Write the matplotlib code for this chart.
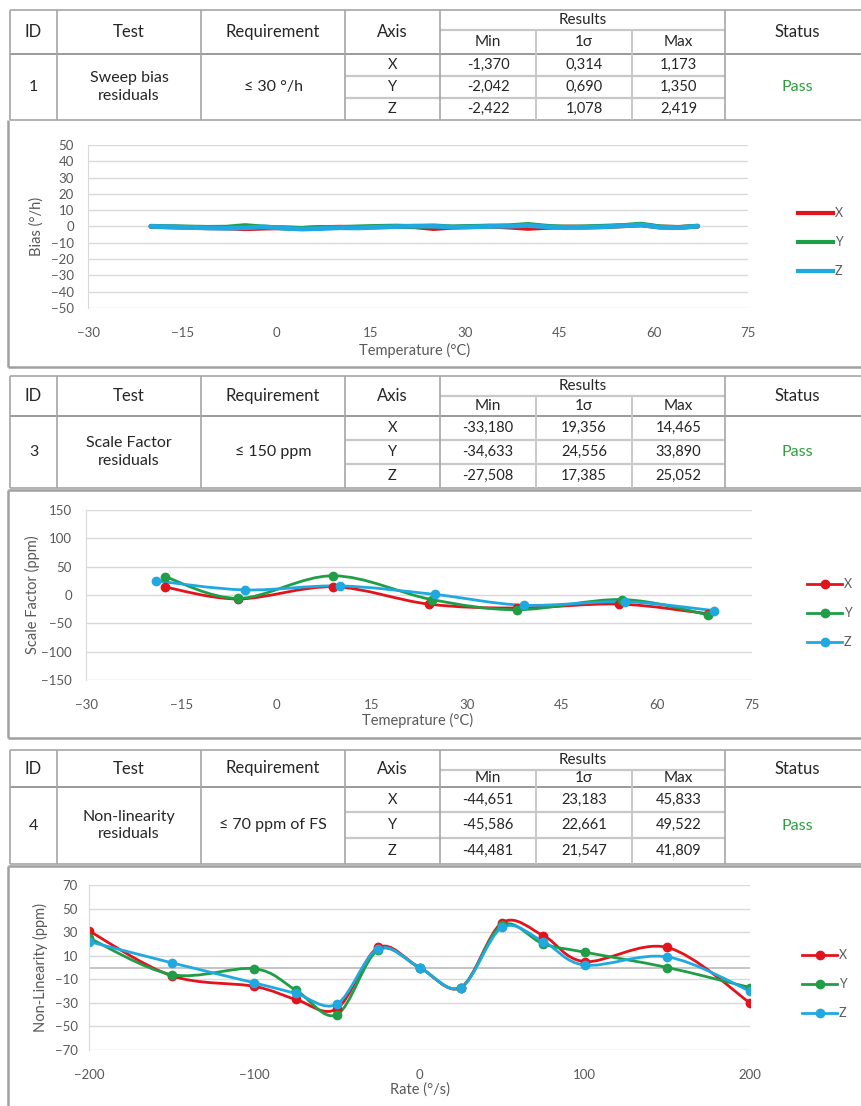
import numpy as np
import matplotlib
matplotlib.use("Agg")
import matplotlib.pyplot as plt
from matplotlib.path import Path
from matplotlib.patches import PathPatch
from matplotlib.lines import Line2D

plt.rcParams['font.family'] = ['Lato', 'DejaVu Sans']

W, H = 861, 1106

RED = '#e3131c'
GREEN = '#1f9e47'
BLUE = '#1fa9e0'
GRID = '#d9d9d9'
TXT = '#595959'
LINE = '#a6a6a6'

# ---------------- data ----------------
axis_names = ['X', 'Y', 'Z']

# table 1 - sweep bias
t1_id, t1_test, t1_req = '1', 'Sweep bias\nresiduals', '≤ 30 °/h'
t1_min = ['-1,370', '-2,042', '-2,422']
t1_sig = ['0,314', '0,690', '1,078']
t1_max = ['1,173', '1,350', '2,419']

# table 2 - scale factor
t2_id, t2_test, t2_req = '3', 'Scale Factor\nresiduals', '≤ 150 ppm'
t2_min = ['-33,180', '-34,633', '-27,508']
t2_sig = ['19,356', '24,556', '17,385']
t2_max = ['14,465', '33,890', '25,052']

# table 3 - non-linearity
t3_id, t3_test, t3_req = '4', 'Non-linearity\nresiduals', '≤ 70 ppm of FS'
t3_min = ['-44,651', '-45,586', '-44,481']
t3_sig = ['23,183', '22,661', '21,547']
t3_max = ['45,833', '49,522', '41,809']

status = 'Pass'

# chart 1 - bias vs temperature (°/h)
bias_temp = [-20, -17, -14, -11, -8, -5, -2, 1, 4, 7, 10, 13, 16, 19, 22,
             25, 28, 31, 34, 37, 40, 43, 46, 49, 52, 55, 58, 61, 64, 67]
bias_x = [0.0, -0.3, -0.5, -0.8, -0.9, -1.4, -1.0, -0.8, -1.1, -0.7, -0.4, -0.6, -0.3, 0.0, -0.2,
          -1.3, -0.5, -0.1, 0.2, -0.4, -1.2, -0.6, -0.3, -0.4, -0.1, 0.4, 0.9, -0.3, -0.5, 0.1]
bias_y = [0.2, -0.1, -0.3, -0.5, -0.4, 0.6, -0.3, -0.9, -1.2, -0.5, -0.6, -0.2, 0.1, 0.3, 0.0,
          0.4, -0.2, 0.1, 0.3, 0.5, 1.3, 0.2, -0.4, -0.2, 0.2, 0.6, 1.5, -0.2, -0.6, 0.3]
bias_z = [0.1, -0.2, -0.6, -0.9, -1.1, -0.8, -0.2, -1.0, -1.6, -1.3, -0.8, -0.9, -0.4, -0.1, 0.3,
          0.2, -0.4, -0.3, 0.1, 0.2, 0.6, -0.2, -0.6, -0.5, -0.2, 0.4, 1.0, -0.5, -0.7, 0.2]

# chart 2 - scale factor vs temperature (ppm)
sf_temp_x = [-17.5, -6, 9, 24, 38, 54, 68]
sf_x = [14, -7, 14.5, -16, -23, -16, -33]
sf_temp_y = [-17.5, -6, 9, 24.5, 38, 54.5, 68]
sf_y = [32, -6, 33.9, -8, -26, -8, -34.6]
sf_temp_z = [-19, -5, 10, 25, 39, 55, 69]
sf_z = [25, 9, 16, 1, -18, -12, -27.5]

# chart 3 - non-linearity vs rate (ppm)
rate = [-200, -150, -100, -75, -50, -25, 0, 25, 50, 75, 100, 150, 200]
nl_x = [31, -7, -16, -27, -35, 17, 0, -17, 38, 27, 5, 17, -30]
nl_y = [25, -6, -1, -19, -40, 15, 0, -17, 36, 20, 13, 0, -17]
nl_z = [22, 4, -13, -22, -31, 16, 0, -17, 34, 22, 2, 9, -20]

colors = [RED, GREEN, BLUE]

fig = plt.figure(figsize=(W / 100, H / 100), dpi=100)
bg = fig.add_axes([0, 0, 1, 1], zorder=0)
bg.set_xlim(0, W)
bg.set_ylim(H, 0)
bg.axis('off')

cols = [10, 57, 201, 345, 440, 536, 632, 725]
col_c = [(cols[i] + cols[i + 1]) / 2 for i in range(len(cols) - 1)] + [797]


def hline(y, x0, x1, color=LINE, lw=1.2):
    bg.plot([x0, x1], [y, y], color=color, lw=lw, solid_capstyle='butt')


def vline(x, y0, y1, color=LINE, lw=1.2):
    bg.plot([x, x], [y0, y1], color=color, lw=lw, solid_capstyle='butt')


def draw_table(top, res_y, hdr_b, rows, tid, test, req, mins, sigs, maxs):
    bottom = rows[-1]
    hline(top, cols[0], W)
    hline(res_y, cols[4], cols[7], color='#c8c8c8', lw=1.6)
    hline(hdr_b, cols[0], W, color='#9a9a9a', lw=1.4)
    for r in rows[1:-1]:
        hline(r, cols[3], cols[7], color='#c8c8c8', lw=1.6)
    hline(bottom, cols[0], W)
    for x in [cols[0], cols[1], cols[2], cols[3], cols[4], cols[7]]:
        vline(x, top, bottom)
    for x in [cols[5], cols[6]]:
        vline(x, res_y, bottom, color='#c8c8c8', lw=1.4)

    hy = (top + hdr_b) / 2
    kw = dict(ha='center', va='center', color='#262626')
    bg.text(col_c[0], hy, 'ID', fontsize=12, **kw)
    bg.text(col_c[1], hy, 'Test', fontsize=12, **kw)
    bg.text(col_c[2], hy, 'Requirement', fontsize=12, **kw)
    bg.text(col_c[3], hy, 'Axis', fontsize=12, **kw)
    bg.text((cols[4] + cols[7]) / 2, (top + res_y) / 2, 'Results', fontsize=11, **kw)
    sy = (res_y + hdr_b) / 2
    bg.text(col_c[4], sy, 'Min', fontsize=11, **kw)
    bg.text(col_c[5], sy, '1σ', fontsize=11, **kw)
    bg.text(col_c[6], sy, 'Max', fontsize=11, **kw)
    bg.text(col_c[7], hy, 'Status', fontsize=12, **kw)

    dy = (hdr_b + bottom) / 2
    bg.text(col_c[0], dy, tid, fontsize=11.5, **kw)
    bg.text(col_c[1], dy, test, fontsize=11.5, linespacing=1.35, **kw)
    bg.text(col_c[2], dy, req, fontsize=11.5, **kw)
    for i in range(3):
        ry = (rows[i] + rows[i + 1]) / 2
        bg.text(col_c[3], ry, axis_names[i], fontsize=10.5, **kw)
        bg.text(col_c[4], ry, mins[i], fontsize=10.5, **kw)
        bg.text(col_c[5], ry, sigs[i], fontsize=10.5, **kw)
        bg.text(col_c[6], ry, maxs[i], fontsize=10.5, **kw)
    bg.text(col_c[7], dy, status, fontsize=11.5, ha='center', va='center', color='#2e9e3e')


def panel_box(top, bottom):
    hline(bottom, 8, W, color='#a0a0a0', lw=1.8)
    vline(8, top, bottom, color='#a0a0a0', lw=1.8)


def make_ax(left, right, top, bottom):
    ax = fig.add_axes([left / W, 1 - bottom / H, (right - left) / W, (bottom - top) / H], zorder=2)
    ax.patch.set_alpha(0)
    for s in ['top', 'right', 'bottom']:
        ax.spines[s].set_visible(False)
    ax.spines['left'].set_color(GRID)
    ax.grid(axis='y', color=GRID, lw=1)
    ax.set_axisbelow(True)
    ax.tick_params(length=0, labelsize=9.5, labelcolor=TXT)
    return ax


def smooth_path(xs, ys):
    pts = np.column_stack([xs, ys]).astype(float)
    ext = np.vstack([pts[0], pts, pts[-1]])
    verts = [pts[0]]
    codes = [Path.MOVETO]
    for i in range(len(pts) - 1):
        p0, p1, p2, p3 = ext[i], ext[i + 1], ext[i + 2], ext[i + 3]
        verts += [p1 + (p2 - p0) / 6, p2 - (p3 - p1) / 6, p2]
        codes += [Path.CURVE4] * 3
    return Path(verts, codes)


def add_legend(x_px, y_px, marker, lw):
    handles = [Line2D([], [], color=c, lw=lw, marker='o' if marker else None, ms=6) for c in colors]
    fig.legend(handles, axis_names, loc='center left', bbox_to_anchor=(x_px / W, 1 - y_px / H),
               frameon=False, handlelength=2.8, handletextpad=0.15, labelspacing=1.35,
               borderpad=0, borderaxespad=0, fontsize=9, labelcolor=TXT)


# ---------------- table 1 + chart 1 ----------------
draw_table(10, 30, 54, [54, 76, 98, 120], t1_id, t1_test, t1_req, t1_min, t1_sig, t1_max)
panel_box(120, 367)
ax1 = make_ax(88, 748, 145, 308)
for xs, c in zip([bias_x, bias_y, bias_z], colors):
    ax1.plot(bias_temp, xs, color=c, lw=3.4, solid_capstyle='round')
ax1.set_xlim(-30, 75)
ax1.set_ylim(-50, 50)
ax1.set_xticks([-30, -15, 0, 15, 30, 45, 60, 75])
ax1.set_yticks(range(-50, 51, 10))
ax1.tick_params(axis='x', pad=14)
ax1.tick_params(axis='y', pad=10)
bg.text(415, 350, 'Temperature (°C)', fontsize=10.5, color=TXT, ha='center', va='center')
bg.text(37, 226, 'Bias (°/h)', fontsize=10.5, color=TXT, ha='center', va='center', rotation=90)
add_legend(798, 242, False, 3)

# ---------------- table 2 + chart 2 ----------------
draw_table(376, 396, 416, [416, 440, 464, 488], t2_id, t2_test, t2_req, t2_min, t2_sig, t2_max)
hline(490, 8, W, color='#a0a0a0', lw=1.8)
panel_box(490, 738)
ax2 = make_ax(86, 752, 510, 680)
for xs, ys, c in zip([sf_temp_x, sf_temp_y, sf_temp_z], [sf_x, sf_y, sf_z], colors):
    ax2.add_patch(PathPatch(smooth_path(xs, ys), fill=False, edgecolor=c, lw=2))
    ax2.plot(xs, ys, 'o', color=c, ms=6)
ax2.set_xlim(-30, 75)
ax2.set_ylim(-150, 150)
ax2.set_xticks([-30, -15, 0, 15, 30, 45, 60, 75])
ax2.set_yticks(range(-150, 151, 50))
ax2.tick_params(axis='x', pad=14)
ax2.tick_params(axis='y', pad=10)
bg.text(418, 720, 'Temeprature (°C)', fontsize=10.5, color=TXT, ha='center', va='center')
bg.text(32, 595, 'Scale Factor (ppm)', fontsize=10.5, color=TXT, ha='center', va='center', rotation=90)
add_legend(807, 613, True, 2)

# ---------------- table 3 + chart 3 ----------------
draw_table(750, 770, 787, [787, 812, 838, 864], t3_id, t3_test, t3_req, t3_min, t3_sig, t3_max)
hline(866, 8, W, color='#a0a0a0', lw=1.8)
vline(8, 866, H, color='#a0a0a0', lw=1.8)
ax3 = make_ax(89, 750, 885, 1050)
ax3.axhline(0, color='#bfbfbf', lw=1.3, zorder=1)
for ys, c in zip([nl_x, nl_y, nl_z], colors):
    ax3.add_patch(PathPatch(smooth_path(rate, ys), fill=False, edgecolor=c, lw=2))
    ax3.plot(rate, ys, 'o', color=c, ms=6)
ax3.set_xlim(-200, 200)
ax3.set_ylim(-70, 70)
ax3.set_xticks([-200, -100, 0, 100, 200])
ax3.set_yticks(range(-70, 71, 20))
ax3.tick_params(axis='x', pad=14)
ax3.tick_params(axis='y', pad=8)
bg.text(420, 1090, 'Rate (°/s)', fontsize=10.5, color=TXT, ha='center', va='center')
bg.text(40, 967, 'Non-Linearity (ppm)', fontsize=10.5, color=TXT, ha='center', va='center', rotation=90)
add_legend(802, 984, True, 2)

fig.savefig('out.png', dpi=100)
